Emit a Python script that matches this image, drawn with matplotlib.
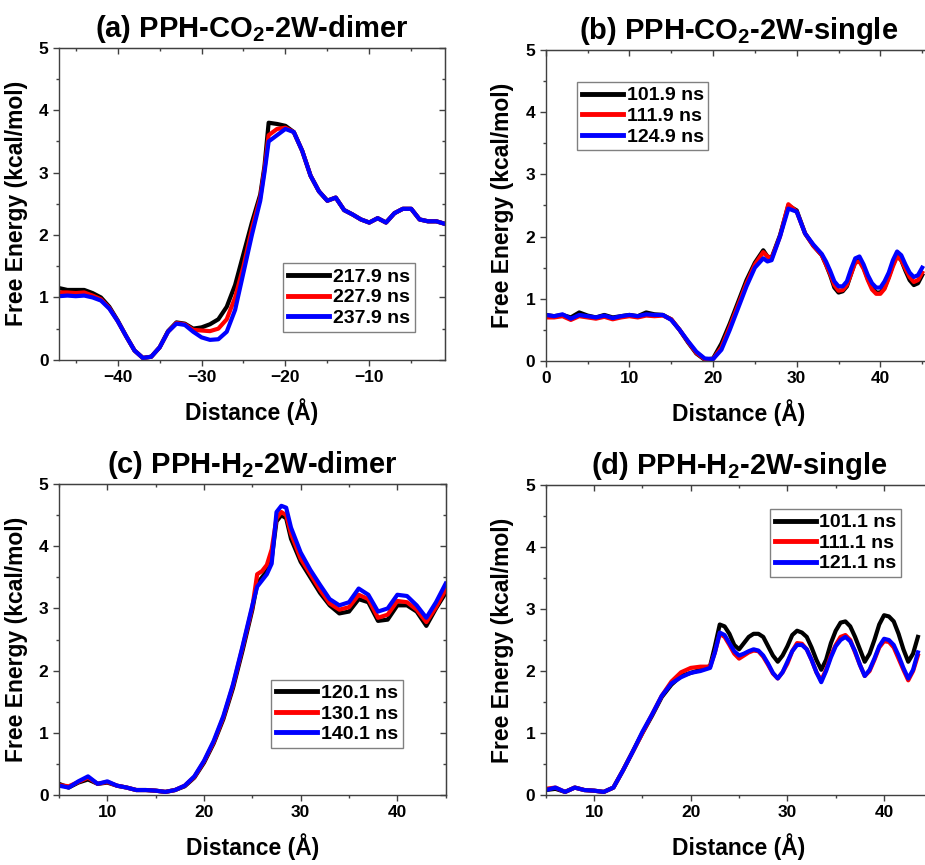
import matplotlib
matplotlib.use("Agg")
import matplotlib.pyplot as plt
from matplotlib.ticker import MultipleLocator

plt.rcParams['font.family'] = 'Liberation Sans'
plt.rcParams['font.weight'] = 'bold'
plt.rcParams['axes.labelweight'] = 'bold'
plt.rcParams['axes.titleweight'] = 'bold'
plt.rcParams['mathtext.fontset'] = 'custom'
plt.rcParams['mathtext.bf'] = 'Liberation Sans:bold'
plt.rcParams['mathtext.rm'] = 'Liberation Sans:bold'
plt.rcParams['mathtext.default'] = 'bf'

# ---- (a) PPH-CO2-2W-dimer ----
xa = [-47, -46, -45, -44, -43, -42, -41, -40, -39, -38, -37, -36, -35, -34, -33, -32, -31,
      -30, -29, -28, -27, -26, -25, -24, -23, -22.5, -22, -21, -20, -19, -18, -17, -16, -15,
      -14, -13, -12, -11, -10, -9, -8, -7, -6, -5, -4, -3, -2, -1]
a_black = [1.15, 1.12, 1.12, 1.12, 1.07, 1.00, 0.85, 0.63, 0.38, 0.15, 0.03, 0.05, 0.20, 0.46,
           0.60, 0.58, 0.50, 0.52, 0.57, 0.65, 0.85, 1.20, 1.70, 2.20, 2.65, 3.10, 3.80, 3.78,
           3.75, 3.65, 3.35, 2.95, 2.70, 2.55, 2.60, 2.40, 2.33, 2.25, 2.20, 2.27, 2.20, 2.35,
           2.42, 2.42, 2.25, 2.22, 2.22, 2.18]
a_red = [1.08, 1.08, 1.07, 1.08, 1.03, 0.97, 0.83, 0.62, 0.38, 0.15, 0.03, 0.05, 0.20, 0.45,
         0.59, 0.57, 0.48, 0.47, 0.46, 0.50, 0.65, 1.00, 1.50, 2.10, 2.60, 3.05, 3.60, 3.70,
         3.72, 3.65, 3.35, 2.95, 2.70, 2.55, 2.60, 2.40, 2.33, 2.25, 2.20, 2.27, 2.20, 2.35,
         2.42, 2.42, 2.25, 2.22, 2.22, 2.18]
a_blue = [1.02, 1.03, 1.02, 1.03, 1.00, 0.95, 0.82, 0.62, 0.38, 0.15, 0.03, 0.05, 0.20, 0.45,
          0.58, 0.56, 0.45, 0.36, 0.32, 0.33, 0.45, 0.80, 1.40, 2.00, 2.55, 3.00, 3.50, 3.60,
          3.70, 3.65, 3.35, 2.95, 2.70, 2.55, 2.60, 2.40, 2.33, 2.25, 2.20, 2.27, 2.20, 2.35,
          2.42, 2.42, 2.25, 2.22, 2.22, 2.18]
a_labels = ['217.9 ns', '227.9 ns', '237.9 ns']

# ---- (b) PPH-CO2-2W-single ----
xb = [0, 1, 2, 3, 4, 5, 6, 7, 8, 9, 10, 11, 12, 13, 14, 15, 16, 17, 18, 19, 20, 21, 22, 23,
      24, 25, 26, 26.5, 27, 28, 29, 30, 31, 32, 33, 33.5, 34, 34.5, 35, 35.5, 36, 36.5, 37,
      37.5, 38, 38.5, 39, 39.5, 40, 40.5, 41, 41.5, 42, 42.5, 43, 43.5, 44, 44.5, 45]
b_black = [0.74, 0.72, 0.74, 0.70, 0.78, 0.73, 0.70, 0.74, 0.70, 0.72, 0.74, 0.72, 0.78, 0.75,
           0.74, 0.67, 0.50, 0.30, 0.12, 0.02, 0.04, 0.28, 0.60, 0.95, 1.30, 1.58, 1.78, 1.68,
           1.66, 2.02, 2.50, 2.42, 2.05, 1.85, 1.70, 1.55, 1.38, 1.18, 1.10, 1.12, 1.20, 1.40,
           1.60, 1.62, 1.50, 1.32, 1.18, 1.10, 1.10, 1.18, 1.35, 1.55, 1.70, 1.62, 1.45, 1.30,
           1.22, 1.25, 1.38]
b_red = [0.70, 0.70, 0.72, 0.66, 0.72, 0.70, 0.68, 0.71, 0.67, 0.70, 0.72, 0.70, 0.73, 0.72,
         0.73, 0.67, 0.50, 0.31, 0.13, 0.03, 0.03, 0.22, 0.55, 0.90, 1.25, 1.55, 1.75, 1.68,
         1.65, 2.00, 2.52, 2.40, 2.05, 1.85, 1.70, 1.55, 1.40, 1.22, 1.13, 1.14, 1.22, 1.40,
         1.58, 1.60, 1.48, 1.30, 1.15, 1.08, 1.08, 1.16, 1.33, 1.52, 1.68, 1.62, 1.48, 1.35,
         1.27, 1.30, 1.42]
b_blue = [0.74, 0.72, 0.75, 0.68, 0.74, 0.72, 0.70, 0.73, 0.69, 0.72, 0.74, 0.72, 0.75, 0.74,
          0.74, 0.66, 0.50, 0.32, 0.15, 0.04, 0.03, 0.18, 0.50, 0.85, 1.20, 1.50, 1.65, 1.60,
          1.62, 2.00, 2.45, 2.40, 2.05, 1.87, 1.72, 1.60, 1.45, 1.28, 1.20, 1.20, 1.28, 1.48,
          1.65, 1.68, 1.55, 1.38, 1.25, 1.18, 1.18, 1.28, 1.42, 1.62, 1.76, 1.70, 1.55, 1.42,
          1.35, 1.38, 1.50]
b_labels = ['101.9 ns', '111.9 ns', '124.9 ns']

# ---- (c) PPH-H2-2W-dimer ----
xc = [5, 6, 7, 8, 9, 10, 11, 12, 13, 14, 15, 16, 17, 18, 19, 20, 21, 22, 23, 24, 25, 25.5,
      26, 26.5, 27, 27.5, 28, 28.5, 29, 30, 31, 32, 33, 34, 35, 36, 37, 38, 39, 40, 41, 42,
      43, 44, 45]
c_black = [0.18, 0.12, 0.20, 0.25, 0.18, 0.20, 0.15, 0.12, 0.08, 0.08, 0.07, 0.05, 0.08, 0.14,
           0.28, 0.52, 0.83, 1.22, 1.72, 2.33, 2.98, 3.40, 3.50, 3.60, 3.80, 4.40, 4.50, 4.45,
           4.12, 3.75, 3.50, 3.25, 3.05, 2.92, 2.95, 3.15, 3.10, 2.80, 2.82, 3.05, 3.05, 2.95,
           2.72, 3.00, 3.25]
c_red = [0.16, 0.14, 0.21, 0.28, 0.18, 0.21, 0.15, 0.12, 0.08, 0.08, 0.07, 0.05, 0.08, 0.15,
         0.29, 0.54, 0.85, 1.25, 1.76, 2.38, 3.02, 3.55, 3.60, 3.70, 3.95, 4.45, 4.55, 4.50,
         4.20, 3.80, 3.55, 3.30, 3.08, 2.98, 3.02, 3.22, 3.15, 2.85, 2.90, 3.12, 3.10, 2.98,
         2.78, 3.02, 3.30]
c_blue = [0.15, 0.12, 0.22, 0.30, 0.18, 0.22, 0.15, 0.12, 0.08, 0.08, 0.07, 0.05, 0.08, 0.15,
          0.30, 0.55, 0.87, 1.27, 1.78, 2.40, 3.05, 3.35, 3.45, 3.55, 3.72, 4.55, 4.65, 4.62,
          4.30, 3.90, 3.62, 3.38, 3.15, 3.05, 3.10, 3.32, 3.22, 2.95, 3.00, 3.22, 3.20, 3.05,
          2.85, 3.10, 3.40]
c_labels = ['120.1 ns', '130.1 ns', '140.1 ns']

# ---- (d) PPH-H2-2W-single ----
xd = [5, 6, 7, 8, 9, 10, 11, 12, 13, 14, 15, 16, 17, 18, 19, 20, 21, 22, 22.5, 23, 23.5,
      24, 24.5, 25, 25.5, 26, 26.5, 27, 27.5, 28, 28.5, 29, 29.5, 30, 30.5, 31, 31.5, 32,
      32.5, 33, 33.5, 34, 34.5, 35, 35.5, 36, 36.5, 37, 37.5, 38, 38.5, 39, 39.5, 40, 40.5,
      41, 41.5, 42, 42.5, 43, 43.5]
d_black = [0.08, 0.10, 0.05, 0.12, 0.08, 0.07, 0.05, 0.12, 0.40, 0.70, 1.00, 1.28, 1.58, 1.78,
           1.92, 1.97, 2.02, 2.08, 2.40, 2.75, 2.72, 2.60, 2.42, 2.35, 2.45, 2.55, 2.60, 2.60,
           2.55, 2.40, 2.25, 2.15, 2.25, 2.40, 2.58, 2.65, 2.62, 2.55, 2.38, 2.18, 2.02, 2.18,
           2.45, 2.65, 2.78, 2.80, 2.72, 2.55, 2.35, 2.15, 2.28, 2.50, 2.75, 2.90, 2.88, 2.80,
           2.60, 2.35, 2.15, 2.28, 2.55]
d_red = [0.10, 0.12, 0.05, 0.12, 0.08, 0.07, 0.05, 0.12, 0.40, 0.70, 1.00, 1.30, 1.60, 1.83,
         1.98, 2.05, 2.07, 2.07, 2.30, 2.60, 2.55, 2.42, 2.28, 2.20, 2.25, 2.30, 2.33, 2.32,
         2.23, 2.10, 1.96, 1.88, 1.98, 2.12, 2.32, 2.45, 2.44, 2.35, 2.18, 1.98, 1.85, 2.02,
         2.25, 2.42, 2.55, 2.58, 2.50, 2.30, 2.10, 1.92, 2.00, 2.18, 2.38, 2.48, 2.47, 2.38,
         2.20, 2.02, 1.85, 2.00, 2.25]
d_blue = [0.08, 0.12, 0.05, 0.12, 0.08, 0.07, 0.05, 0.12, 0.40, 0.70, 1.02, 1.30, 1.60, 1.80,
          1.90, 1.97, 2.00, 2.05, 2.30, 2.62, 2.58, 2.45, 2.32, 2.25, 2.28, 2.32, 2.35, 2.33,
          2.25, 2.12, 1.97, 1.88, 1.98, 2.15, 2.32, 2.42, 2.42, 2.35, 2.18, 1.98, 1.82, 2.00,
          2.22, 2.40, 2.50, 2.55, 2.48, 2.32, 2.10, 1.92, 2.02, 2.20, 2.40, 2.52, 2.50, 2.42,
          2.25, 2.05, 1.88, 2.02, 2.30]
d_labels = ['101.1 ns', '111.1 ns', '121.1 ns']

colors = ['black', 'red', 'blue']
spine_c = '#404040'


def draw(ax, x, ys, labels, title, xlim, leg_loc, leg_anchor):
    for y, c, lab in zip(ys, colors, labels):
        ax.plot(x, y, color=c, lw=3, label=lab, solid_joinstyle='round')
    ax.set_xlim(*xlim)
    ax.set_ylim(0, 5)
    ax.xaxis.set_major_locator(MultipleLocator(10))
    ax.xaxis.set_minor_locator(MultipleLocator(5))
    ax.yaxis.set_major_locator(MultipleLocator(1))
    ax.yaxis.set_minor_locator(MultipleLocator(0.5))
    ax.tick_params(which='both', direction='out', colors=spine_c, labelcolor='black',
                   labelsize=12.5, width=1)
    ax.tick_params(which='major', length=4)
    ax.tick_params(which='minor', length=2.5)
    for s in ax.spines.values():
        s.set_color(spine_c)
        s.set_linewidth(1)
    sx = ax.secondary_xaxis('top')
    sx.xaxis.set_major_locator(MultipleLocator(10))
    sx.xaxis.set_minor_locator(MultipleLocator(5))
    sx.tick_params(which='both', direction='in', colors=spine_c, labeltop=False, width=1)
    sx.tick_params(which='major', length=4)
    sx.tick_params(which='minor', length=2.5)
    sx.spines['top'].set_color(spine_c)
    sy = ax.secondary_yaxis('right')
    sy.yaxis.set_major_locator(MultipleLocator(1))
    sy.yaxis.set_minor_locator(MultipleLocator(0.5))
    sy.tick_params(which='both', direction='in', colors=spine_c, labelright=False, width=1)
    sy.tick_params(which='major', length=4)
    sy.tick_params(which='minor', length=2.5)
    sy.spines['right'].set_color(spine_c)
    ax.set_xlabel('Distance (Å)', fontsize=16.5, labelpad=9)
    ax.set_ylabel('Free Energy (kcal/mol)', fontsize=16.5, labelpad=8)
    ax.set_title(title, fontsize=21, pad=8)
    leg = ax.legend(loc=leg_loc, bbox_to_anchor=leg_anchor, fontsize=14, frameon=True,
                    fancybox=False, handlelength=2.1, handletextpad=0.2, labelspacing=0.15,
                    borderpad=0.25, borderaxespad=0)
    leg.get_frame().set_edgecolor('#606060')
    leg.get_frame().set_linewidth(1)
    for line in leg.get_lines():
        line.set_linewidth(3.5)


fig = plt.figure(figsize=(9.25, 8.65), dpi=100)
ax_a = fig.add_axes([0.0638, 0.584, 0.417, 0.3607])
ax_b = fig.add_axes([0.590, 0.5827, 0.416, 0.3595])
ax_c = fig.add_axes([0.0638, 0.0809, 0.418, 0.3595])
ax_d = fig.add_axes([0.590, 0.0809, 0.418, 0.3584])

draw(ax_a, xa, [a_black, a_red, a_blue], a_labels, '(a) PPH-CO$_2$-2W-dimer', (-47, -1),
     'lower right', (0.922, 0.09))
draw(ax_b, xb, [b_black, b_red, b_blue], b_labels, '(b) PPH-CO$_2$-2W-single', (0, 46),
     'upper left', (0.081, 0.897))
draw(ax_c, xc, [c_black, c_red, c_blue], c_labels, '(c) PPH-H$_2$-2W-dimer', (5, 45),
     'lower right', (0.889, 0.151))
draw(ax_d, xd, [d_black, d_red, d_blue], d_labels, '(d) PPH-H$_2$-2W-single', (5, 45),
     'upper right', (0.92, 0.923))

fig.savefig('out.png', dpi=100)
